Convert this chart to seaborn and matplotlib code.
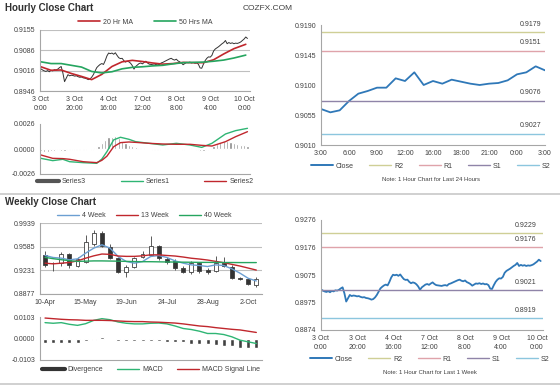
import numpy as np
import matplotlib
matplotlib.use("Agg")
import matplotlib.pyplot as plt
from matplotlib.lines import Line2D
import pandas as pd
import seaborn as sns

sns.set_style("white")
plt.rcParams['font.family'] = ['Liberation Sans', 'DejaVu Sans']

# ---- hourly close, last week (one value per trading hour) ----
hour_ticks = ["3 Oct\n0:00", "3 Oct\n20:00", "4 Oct\n16:00", "7 Oct\n12:00",
              "8 Oct\n8:00", "9 Oct\n4:00", "10 Oct\n0:00"]
hourly_close = [
    0.9022, 0.9018, 0.9015, 0.9013, 0.9016, 0.9012, 0.9017, 0.9015, 0.9019, 0.9018,
    0.9021, 0.9026, 0.9030, 0.9008, 0.8978, 0.8990, 0.9002, 0.8998, 0.9000, 0.8999,
    0.8997, 0.8998, 0.8995, 0.8993, 0.8994, 0.8991, 0.8990, 0.8988, 0.8985, 0.8987,
    0.8993, 0.9002, 0.9014, 0.9026, 0.9032, 0.9037, 0.9040, 0.9037, 0.9050, 0.9066,
    0.9076, 0.9074, 0.9076, 0.9072, 0.9077, 0.9068, 0.9060, 0.9057, 0.9058, 0.9050,
    0.9045, 0.9048, 0.9046, 0.9041, 0.9033, 0.9021, 0.9030, 0.9035, 0.9040, 0.9042,
    0.9039, 0.9044, 0.9048, 0.9042, 0.9038, 0.9037, 0.9036, 0.9035, 0.9037, 0.9038,
    0.9036, 0.9042, 0.9044, 0.9047, 0.9050, 0.9053, 0.9056, 0.9058, 0.9054, 0.9052,
    0.9055, 0.9049, 0.9046, 0.9042, 0.9036, 0.9040, 0.9044, 0.9043, 0.9045, 0.9042,
    0.9044, 0.9041, 0.9042, 0.9038, 0.9025, 0.9024, 0.9038, 0.9050, 0.9058, 0.9063,
    0.9062, 0.9068, 0.9083, 0.9090, 0.9094, 0.9098, 0.9103, 0.9108, 0.9112, 0.9119,
    0.9108, 0.9112, 0.9109, 0.9111, 0.9108, 0.9110, 0.9109, 0.9111, 0.9114, 0.9119,
    0.9124, 0.9131, 0.9126]

ma_hours = [0, 6, 12, 18, 24, 30, 36, 42, 48, 54, 60, 66, 72, 78, 84, 90, 96, 102, 108, 114, 121]
ma20 = [0.9029, 0.9017, 0.9018, 0.9006, 0.8996, 0.8985, 0.9003, 0.9030, 0.9046, 0.9051, 0.9047,
        0.9042, 0.9038, 0.9040, 0.9044, 0.9043, 0.9043, 0.9053, 0.9073, 0.9091, 0.9106]
ma50 = [0.9046, 0.9040, 0.9040, 0.9034, 0.9028, 0.9013, 0.9008, 0.9012, 0.9022, 0.9027, 0.9029,
        0.9032, 0.9034, 0.9039, 0.9043, 0.9044, 0.9045, 0.9048, 0.9052, 0.9059, 0.9069]

macd_hours = [0, 7, 13, 17, 25, 33, 36, 39, 43, 47, 52, 56, 64, 72, 80, 88, 95, 101, 109, 115, 122]
series1 = [-0.00097, -0.00121, -0.00107, -0.00132, -0.00142, -0.00149, -0.00105, -0.00028, 0.00095,
           0.00122, 0.00101, 0.00076, 0.00059, 0.00042, 0.00059, 0.00042, 0.00017, 0.00059, 0.00156,
           0.00191, 0.00215]
series2 = [-0.00062, -0.00097, -0.00100, -0.00107, -0.00132, -0.00142, -0.00118, -0.00075, 0.00024,
           0.00066, 0.00073, 0.00069, 0.00059, 0.00052, 0.00049, 0.00049, 0.00038, 0.00031, 0.00076,
           0.00128, 0.00180]
hist_hours = list(range(0, 123, 2))
series3 = [-0.0002, -0.0003, -0.0003, -0.0002, -0.0002, -0.0001, -0.0002, -0.0002, -0.0001, -0.0001,
           -0.0001, -0.0001, -0.0001, -0.0001, 0.0000, -0.0001, 0.0001, 0.0003, 0.0006, 0.0009,
           0.0012, 0.0013, 0.0014, 0.0011, 0.0008, 0.0006, 0.0004, 0.0003, 0.0002, 0.0001,
           0.0001, 0.0000, 0.0000, -0.0001, -0.0001, -0.0001, 0.0000, 0.0001, 0.0001, 0.0000,
           0.0001, 0.0000, -0.0001, 0.0000, 0.0001, 0.0000, -0.0001, -0.0002, -0.0002, -0.0001,
           0.0001, 0.0003, 0.0005, 0.0007, 0.0008, 0.0008, 0.0007, 0.0006, 0.0005, 0.0004,
           0.0004, 0.0003]

# ---- last 24 hours ----
day_ticks = ["3:00", "6:00", "9:00", "12:00", "16:00", "18:00", "21:00", "0:00", "3:00"]
day_close = [0.9064, 0.9059, 0.9062, 0.9076, 0.9087, 0.9091, 0.9096, 0.9096, 0.9110, 0.9106,
             0.9119, 0.9100, 0.9106, 0.9102, 0.9108, 0.9105, 0.9102, 0.9100, 0.9102, 0.9103,
             0.9107, 0.9116, 0.9119, 0.9128, 0.9122]
level_names = ["R2", "R1", "S1", "S2"]
level_colors = ["#cfcf96", "#dfa3aa", "#8f84a8", "#8cc6de"]
day_levels = [0.9179, 0.9151, 0.9076, 0.9027]
week_levels = [0.9229, 0.9176, 0.9021, 0.8919]

# ---- weekly candles ----
week_ticks = ["10-Apr", "15-May", "19-Jun", "24-Jul", "28-Aug", "2-Oct"]
w_open = [0.9463, 0.9345, 0.9345, 0.9470, 0.9300, 0.9362, 0.9620, 0.9789, 0.9580, 0.9420,
          0.9212, 0.9287, 0.9430, 0.9463, 0.9598, 0.9398, 0.9377, 0.9263, 0.9200, 0.9338,
          0.9238, 0.9227, 0.9338, 0.9287, 0.9122, 0.9097, 0.9012]
w_high = [0.9513, 0.9350, 0.9505, 0.9495, 0.9428, 0.9765, 0.9838, 0.9814, 0.9620, 0.9435,
          0.9313, 0.9428, 0.9520, 0.9740, 0.9613, 0.9425, 0.9398, 0.9290, 0.9377, 0.9362,
          0.9263, 0.9450, 0.9437, 0.9313, 0.9128, 0.9113, 0.9128]
w_low = [0.9288, 0.9215, 0.9290, 0.9260, 0.9278, 0.9338, 0.9595, 0.9578, 0.9400, 0.9185,
         0.9137, 0.9262, 0.9410, 0.9440, 0.9388, 0.9330, 0.9238, 0.9197, 0.9177, 0.9197,
         0.9177, 0.9212, 0.9287, 0.9097, 0.9088, 0.9012, 0.8978]
w_close = [0.9313, 0.9335, 0.9480, 0.9310, 0.9403, 0.9650, 0.9785, 0.9588, 0.9418, 0.9208,
           0.9287, 0.9413, 0.9475, 0.9590, 0.9413, 0.9362, 0.9265, 0.9212, 0.9347, 0.9227,
           0.9205, 0.9338, 0.9300, 0.9113, 0.9097, 0.9027, 0.9097]
ma4w = [0.9453, 0.9423, 0.9413, 0.9388, 0.9403, 0.9488, 0.9563, 0.9613, 0.9563, 0.9438,
        0.9363, 0.9338, 0.9363, 0.9438, 0.9453, 0.9423, 0.9373, 0.9338, 0.9313, 0.9303,
        0.9288, 0.9313, 0.9303, 0.9253, 0.9188, 0.9112, 0.9072]
ma13w = [0.9338, 0.9328, 0.9338, 0.9348, 0.9373, 0.9413, 0.9448, 0.9475, 0.9470, 0.9445,
         0.9440, 0.9440, 0.9448, 0.9463, 0.9463, 0.9453, 0.9445, 0.9430, 0.9412, 0.9400,
         0.9385, 0.9365, 0.9345, 0.9320, 0.9295, 0.9265, 0.9235]
ma40w = [0.9425, 0.9405, 0.9390, 0.9375, 0.9365, 0.9368, 0.9372, 0.9372, 0.9370, 0.9368,
         0.9365, 0.9362, 0.9360, 0.9360, 0.9358, 0.9356, 0.9355, 0.9353, 0.9352, 0.9350,
         0.9350, 0.9350, 0.9348, 0.9348, 0.9347, 0.9347, 0.9347]
w_macd = [0.0076, 0.0073, 0.0076, 0.0068, 0.0063, 0.0071, 0.0087, 0.0095, 0.0090, 0.0079,
          0.0073, 0.0070, 0.0070, 0.0073, 0.0074, 0.0070, 0.0060, 0.0048, 0.0043, 0.0035,
          0.0024, 0.0024, 0.0019, 0.0008, -0.0008, -0.0016, -0.0024]
w_signal = [0.0098, 0.0095, 0.0092, 0.0090, 0.0089, 0.0087, 0.0087, 0.0087, 0.0086, 0.0084,
            0.0082, 0.0081, 0.0081, 0.0079, 0.0078, 0.0076, 0.0074, 0.0070, 0.0065, 0.0060,
            0.0057, 0.0052, 0.0048, 0.0044, 0.0041, 0.0035, 0.0029]
w_div = [-0.0021, -0.0021, -0.0020, -0.0021, -0.0021, -0.0013, -0.0005, 0.0005, -0.0003, -0.0010,
         -0.0011, -0.0010, -0.0011, -0.0010, -0.0011, -0.0016, -0.0016, -0.0017, -0.0026, -0.0028,
         -0.0028, -0.0033, -0.0035, -0.0036, -0.0045, -0.0045, -0.0047]

RED = "#c0272d"
GREEN = "#25a55f"
BLUE = "#2f78b8"
DARK = "#404040"

fig = plt.figure(figsize=(5.6, 3.86), dpi=100)


def box(x0, y0, x1, y1):
    return fig.add_axes([x0 / 560, 1 - y1 / 386, (x1 - x0) / 560, (y1 - y0) / 386])


def style(ax, grid=False):
    sns.despine(ax=ax)
    for s in ["left", "bottom"]:
        ax.spines[s].set_color("#a6a6a6")
        ax.spines[s].set_linewidth(0.8)
    ax.tick_params(labelsize=5, labelcolor="#404040", color="#a6a6a6", length=2, width=0.6, pad=1.5)
    if grid:
        ax.yaxis.grid(True, color="#bfbfbf", lw=0.8)
        ax.set_axisbelow(True)
    ax.set_xlabel("")
    ax.set_ylabel("")


def small_legend(ax, handles, anchor, gap=2.5):
    ax.legend(handles=handles, loc="center", bbox_to_anchor=anchor, ncol=len(handles),
              frameon=False, fontsize=5, handlelength=3.2, columnspacing=gap, handletextpad=0.4,
              labelcolor="#404040")


# ---------- hourly close chart ----------
ax = box(40, 30, 250, 91)
hours = list(range(len(hourly_close)))
sns.lineplot(x=hours, y=hourly_close, color="#333333", lw=0.7, ax=ax)
sns.lineplot(x=ma_hours, y=ma20, color=RED, lw=1.2, ax=ax)
sns.lineplot(x=ma_hours, y=ma50, color=GREEN, lw=1.2, ax=ax)
ax.set_xlim(-0.5, 123.5)
ax.set_ylim(0.8946, 0.9155)
ax.set_yticks([0.8946, 0.9016, 0.9086, 0.9155])
ax.set_yticklabels(["0.8946", "0.9016", "0.9086", "0.9155"])
ax.set_xticks(range(0, 121, 20))
ax.set_xticklabels(hour_ticks, linespacing=1.4)
style(ax, grid=True)
small_legend(ax, [Line2D([], [], color=RED, lw=1.2, label="20 Hr MA"),
                  Line2D([], [], color=GREEN, lw=1.2, label="50 Hrs MA")], (0.5, 1.13), gap=3)

# ---------- hourly MACD ----------
ax = box(40, 124, 250, 174)
ax.bar(hist_hours, series3, width=1.3, color="#8a8a8a")
sns.lineplot(x=macd_hours, y=series1, color="#2fb574", lw=1.0, ax=ax)
sns.lineplot(x=macd_hours, y=series2, color=RED, lw=1.0, ax=ax)
ax.set_xlim(-0.5, 123.5)
ax.set_ylim(-0.0026, 0.0026)
ax.set_yticks([-0.0026, 0.0, 0.0026])
ax.set_yticklabels(["-0.0026", "0.0000", "0.0026"])
ax.set_xticks([])
style(ax)
small_legend(ax, [Line2D([], [], color="#555555", lw=3, label="Series3"),
                  Line2D([], [], color="#2fb574", lw=1, label="Series1"),
                  Line2D([], [], color=RED, lw=1, label="Series2")], (0.5, -0.15), gap=5)

# ---------- last 24 hours ----------
ax = box(321, 25, 545, 145)
sns.lineplot(x=list(range(len(day_close))), y=day_close, color=BLUE, lw=1.3, ax=ax)
for name, col, val in zip(level_names, level_colors, day_levels):
    ax.axhline(val, color=col, lw=1.0)
    ax.text(0.985, val + 0.0007, f"{val:.4f}", transform=ax.get_yaxis_transform(),
            ha="right", va="bottom", fontsize=5, color="#404040")
ax.set_xlim(0, 24)
ax.set_ylim(0.9010, 0.9190)
ax.set_yticks([0.9010, 0.9055, 0.9100, 0.9145, 0.9190])
ax.set_yticklabels(["0.9010", "0.9055", "0.9100", "0.9145", "0.9190"])
ax.set_xticks(range(0, 25, 3))
ax.set_xticklabels(day_ticks)
style(ax)
small_legend(ax, [Line2D([], [], color=BLUE, lw=1.4, label="Close")] +
             [Line2D([], [], color=c, lw=1, label=n) for n, c in zip(level_names, level_colors)],
             (0.49, -0.175), gap=2.2)
ax.text(0.49, -0.29, "Note: 1 Hour Chart for Last 24 Hours", transform=ax.transAxes,
        ha="center", va="center", fontsize=4.3, color="#404040")

# ---------- weekly candles ----------
ax = box(40, 223, 262, 294)
weeks = np.arange(len(w_close))
ax.vlines(weeks, w_low, w_high, color=DARK, lw=0.6, zorder=2)
up = np.array(w_close) >= np.array(w_open)
bottoms = np.minimum(w_open, w_close)
heights = np.abs(np.array(w_close) - np.array(w_open))
ax.bar(weeks, heights, bottom=bottoms, width=0.48, color=np.where(up, "white", "#333333"),
       edgecolor=DARK, lw=0.6, zorder=3)
sns.lineplot(x=weeks, y=ma4w, color="#6c9fd2", lw=1.0, ax=ax, zorder=4)
sns.lineplot(x=weeks, y=ma13w, color=RED, lw=1.0, ax=ax, zorder=4)
sns.lineplot(x=weeks, y=ma40w, color=GREEN, lw=1.0, ax=ax, zorder=4)
ax.set_xlim(-0.62, 26.7)
ax.set_ylim(0.8877, 0.9939)
ax.set_yticks([0.8877, 0.9231, 0.9585, 0.9939])
ax.set_yticklabels(["0.8877", "0.9231", "0.9585", "0.9939"])
ax.set_xticks(range(0, 26, 5))
ax.set_xticklabels(week_ticks)
style(ax, grid=True)
small_legend(ax, [Line2D([], [], color="#6c9fd2", lw=1, label="4 Week"),
                  Line2D([], [], color=RED, lw=1, label="13 Week"),
                  Line2D([], [], color=GREEN, lw=1, label="40 Week")], (0.47, 1.1), gap=1.5)

# ---------- weekly MACD ----------
ax = box(40, 317, 262, 360)
ax.bar(weeks, w_div, width=0.5, color=DARK)
sns.lineplot(x=weeks, y=w_macd, color="#2fb574", lw=1.0, ax=ax)
sns.lineplot(x=weeks, y=w_signal, color=RED, lw=1.0, ax=ax)
ax.set_xlim(-0.62, 26.7)
ax.set_ylim(-0.0103, 0.0103)
ax.set_yticks([-0.0103, 0.0, 0.0103])
ax.set_yticklabels(["-0.0103", "0.0000", "0.0103"])
ax.set_xticks([])
style(ax)
small_legend(ax, [Line2D([], [], color="#333333", lw=3, label="Divergence"),
                  Line2D([], [], color="#2fb574", lw=1, label="MACD"),
                  Line2D([], [], color=RED, lw=1, label="MACD Signal Line")], (0.5, -0.23), gap=2)

# ---------- last week, hourly ----------
ax = box(321, 220, 543, 330)
sns.lineplot(x=hours, y=hourly_close, color=BLUE, lw=1.3, ax=ax)
for name, col, val in zip(level_names, level_colors, week_levels):
    ax.axhline(val, color=col, lw=1.0)
    ax.text(0.97, val + 0.0015, f"{val:.4f}", transform=ax.get_yaxis_transform(),
            ha="right", va="bottom", fontsize=5, color="#404040")
ax.set_xlim(0, 123.3)
ax.set_ylim(0.8874, 0.9276)
ax.set_yticks([0.8874, 0.8975, 0.9075, 0.9176, 0.9276])
ax.set_yticklabels(["0.8874", "0.8975", "0.9075", "0.9176", "0.9276"])
ax.set_xticks(range(0, 121, 20))
ax.set_xticklabels(hour_ticks, linespacing=1.4)
style(ax)
small_legend(ax, [Line2D([], [], color=BLUE, lw=1.4, label="Close")] +
             [Line2D([], [], color=c, lw=1, label=n) for n, c in zip(level_names, level_colors)],
             (0.49, -0.265), gap=2.2)
ax.text(0.49, -0.39, "Note: 1 Hour Chart for Last 1 Week", transform=ax.transAxes,
        ha="center", va="center", fontsize=4.3, color="#404040")

# ---------- titles and separators ----------
fig.text(5 / 560, 1 - 8 / 386, "Hourly Close Chart", fontsize=7, fontweight="bold",
         color="#303030", va="center")
fig.text(5 / 560, 1 - 202 / 386, "Weekly Close Chart", fontsize=7, fontweight="bold",
         color="#303030", va="center")
fig.text(243 / 560, 1 - 8 / 386, "COZFX.COM", fontsize=6, color="#404040", va="center")
for yy in [194, 384]:
    fig.add_artist(Line2D([0, 1], [1 - yy / 386] * 2, color="#c8c8c8", lw=1.2))

fig.savefig("out.png", dpi=100)
